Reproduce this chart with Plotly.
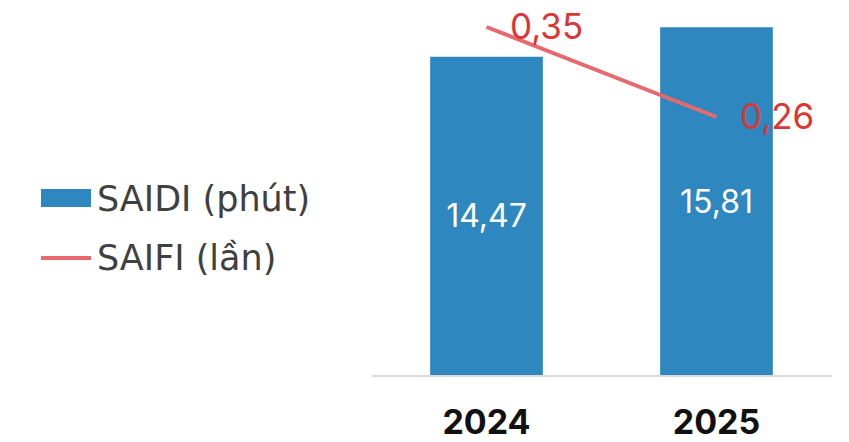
import plotly.graph_objects as go

# Data
years = ["2024", "2025"]
saidi = [14.47, 15.81]   # minutes
saifi = [0.35, 0.26]     # times
saidi_labels = ["14,47", "15,81"]
saifi_labels = ["0,35", "0,26"]
series_names = ["SAIDI (phút)", "SAIFI (lần)"]

BAR_COLOR = "#2E88BF"
LINE_COLOR = "#E8696B"
LABEL_RED = "#DD3434"
FONT = "Inter, Open Sans, sans-serif"
LEGEND_FONT = "DejaVu Sans, sans-serif"

W, H = 849, 442
M_T, M_B = 5, 67
plot_h = H - M_T - M_B

fig = go.Figure()

fig.add_trace(go.Bar(
    x=years, y=saidi, name=series_names[0],
    marker=dict(color=BAR_COLOR, line=dict(width=0)),
    width=0.49,
    text=saidi_labels, textposition="inside", insidetextanchor="middle",
    textfont=dict(family=FONT, size=32, color="white"),
    showlegend=False, yaxis="y",
))

fig.add_trace(go.Scatter(
    x=years, y=saifi, name=series_names[1], mode="lines",
    line=dict(color=LINE_COLOR, width=4),
    showlegend=False, yaxis="y2",
))

# Value labels for the line series, placed to the right of each point
# (category axis: annotation x given as the category index)
for i, (v, lab) in enumerate(zip(saifi, saifi_labels)):
    fig.add_annotation(
        x=i, y=v, xref="x", yref="y2", text=lab, showarrow=False,
        xanchor="left", yanchor="middle", xshift=21, yshift=1,
        font=dict(family=FONT, size=35, color=LABEL_RED),
    )

# Legend drawn in paper coordinates (pixel -> paper conversion)
def px_x(px):
    return px / W

def px_y(py):
    return (H - M_B - py) / plot_h

fig.add_shape(type="rect", xref="paper", yref="paper",
              x0=px_x(41), x1=px_x(91), y0=px_y(207), y1=px_y(189),
              fillcolor=BAR_COLOR, line=dict(width=0))
fig.add_shape(type="line", xref="paper", yref="paper",
              x0=px_x(41), x1=px_x(91), y0=px_y(258), y1=px_y(258),
              line=dict(color=LINE_COLOR, width=4))
for name, cy in zip(series_names, [199, 258]):
    fig.add_annotation(
        x=px_x(95), y=px_y(cy), xref="paper", yref="paper", text=name,
        showarrow=False, xanchor="left", yanchor="middle",
        font=dict(family=LEGEND_FONT, size=35, color="#404040"),
    )

fig.update_layout(
    width=W, height=H,
    margin=dict(l=0, r=0, t=M_T, b=M_B, autoexpand=False),
    paper_bgcolor="white", plot_bgcolor="white",
    xaxis=dict(
        type="category", range=[-0.5, 1.5],
        domain=[371.5 / W, 831.5 / W], automargin=False,
        showline=True, linecolor="#D9D9D9", linewidth=2,
        showgrid=False, zeroline=False, ticks="",
        tickfont=dict(family=FONT, size=34, color="#111111", weight="bold"),
        ticklabelstandoff=16,
    ),
    yaxis=dict(range=[0, plot_h / 22.0], visible=False, fixedrange=True),
    yaxis2=dict(range=[0.002, 0.002 + plot_h / 1000.0], overlaying="y",
                visible=False, fixedrange=True),
    showlegend=False,
)

fig.write_html("out.html")
